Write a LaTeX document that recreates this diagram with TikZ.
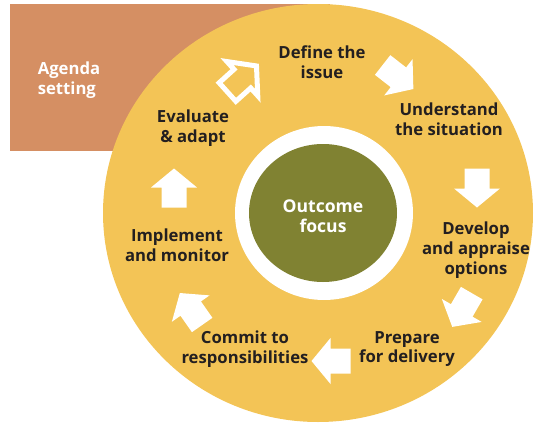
\documentclass[tikz,border=0pt]{standalone}
\usepackage{fontspec}
\setmainfont{Open Sans}
\definecolor{cycleyellow}{RGB}{243,196,86}
\definecolor{agendaorange}{RGB}{213,143,99}
\definecolor{focusgreen}{RGB}{128,130,50}
\definecolor{labeltext}{RGB}{35,31,32}
\tikzset{
  steplabel/.style={align=center, text=labeltext, font=\bfseries\fontsize{9.5}{11.3}\selectfont},
  blockarrow/.pic={
    \path[pic actions] (-19.5,-12.5) -- (0.5,-12.5) -- (0.5,-23) -- (19.5,0)
      -- (0.5,23) -- (0.5,12.5) -- (-19.5,12.5) -- cycle;
  }
}
\begin{document}
\begin{tikzpicture}[x=0.02cm,y=-0.02cm]
\useasboundingbox (0,0) rectangle (535,423);
% agenda box behind the cycle
\fill[agendaorange] (10,4) rectangle (330,151);
\node[align=left, text=white, font=\bfseries\fontsize{9.5}{11.4}\selectfont] (agenda) at (69,80) {Agenda\\setting};
% the cycle
\fill[cycleyellow] (318,213) ellipse [x radius=215, y radius=209];
\fill[white] (324,213) ellipse [x radius=89, y radius=87];
\fill[focusgreen] (323,213) ellipse [x radius=74, y radius=69];
\node[align=center, text=white, font=\bfseries\fontsize{10}{11.6}\selectfont] (focus) at (323,216) {Outcome\\focus};
% steps
\node[steplabel] (define) at (322,62) {Define the\\issue};
\node[steplabel] (understand) at (449,119) {Understand\\the situation};
\node[steplabel] (develop) at (476,250) {Develop\\and appraise\\options};
\node[steplabel] (prepare) at (407,349) {Prepare\\for delivery};
\node[steplabel] (commit) at (245,349) {Commit to\\responsibilities};
\node[steplabel] (implement) at (177,245) {Implement\\and monitor};
\node[steplabel] (evaluate) at (193,128) {Evaluate\\\& adapt};
% arrows between steps
\foreach \x/\y/\a in {398/77/-38, 477/188/-90, 462/310/-120, 331/361/180, 191/309/125, 174/188/90}
  \pic[fill=white, rotate=\a] at (\x,\y) {blockarrow};
\pic[draw=white, line width=1mm, fill=cycleyellow, rotate=42] at (242,79) {blockarrow};
\end{tikzpicture}
\end{document}
